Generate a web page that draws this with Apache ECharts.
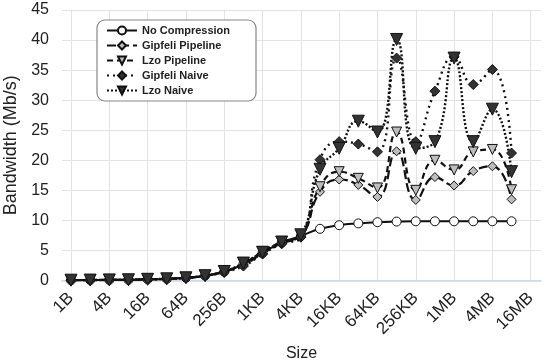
<!DOCTYPE html>
<html>
<head>
<meta charset="utf-8">
<script src="https://cdn.jsdelivr.net/npm/echarts@6/dist/echarts.min.js"></script>
<style>
html,body{margin:0;padding:0;background:#fff;}
#c{width:550px;height:362px;}
</style>
</head>
<body>
<div id="c"></div>
<script>
// Categories: message sizes (powers of two)
var sizes = ['1B','2B','4B','8B','16B','32B','64B','128B','256B','512B','1KB','2KB','4KB','8KB','16KB','32KB','64KB','128KB','256KB','512KB','1MB','2MB','4MB','8MB'];
var tickLabels = ['1B','4B','16B','64B','256B','1KB','4KB','16KB','64KB','256KB','1MB','4MB','16MB'];

var noCompression   = [0.05,0.07,0.1,0.12,0.2,0.27,0.45,0.8,1.45,2.7,4.6,6.3,7.4, 8.6,9.2,9.5,9.7,9.8,9.85,9.85,9.85,9.85,9.85,9.85];
var gipfeliPipeline = [0.05,0.07,0.1,0.12,0.2,0.28,0.45,0.8,1.5,2.6,4.5,6.2,7.3, 14.75,16.8,15.9,13.9,21.5,13.4,17.2,15.8,18.2,19.0,13.5];
var lzoPipeline     = [0.05,0.07,0.1,0.12,0.2,0.28,0.45,0.8,1.5,2.8,4.8,6.4,7.5, 15.6,18.1,17.0,15.4,24.7,15.0,20.0,18.4,21.4,21.8,15.1];
var gipfeliNaive    = [0.05,0.07,0.1,0.12,0.2,0.28,0.45,0.78,1.4,2.4,4.4,6.1,7.2, 20.1,23.1,22.7,21.4,37.0,23.1,31.5,37.2,32.6,35.1,21.2];
var lzoNaive        = [0.05,0.07,0.1,0.12,0.2,0.28,0.45,0.8,1.5,2.9,4.7,6.4,7.6, 18.5,22.0,26.5,24.7,40.1,22.0,23.1,37.0,23.1,28.5,18.1];

function pts(arr){ return arr.map(function(v,i){ return [i, v]; }); }

var FONT = "'Liberation Sans', Arial, sans-serif";
var chart = echarts.init(document.getElementById('c'), null, {renderer:'canvas'});

function mkSeries(name, data, symbol, rotate, size, fill, dash, width) {
  return {
    name: name, type: 'line', xAxisIndex: 1, yAxisIndex: 1,
    data: pts(data), smooth: 0.5, symbol: symbol, symbolRotate: rotate, symbolSize: size,
    showAllSymbol: true,
    lineStyle: {color: '#111', width: width, type: dash},
    itemStyle: {color: fill, borderColor: '#111', borderWidth: 1},
    emphasis: {disabled: true}, animation: false
  };
}

var option = {
  animation: false,
  textStyle: {fontFamily: FONT},
  grid: [
    {left: 62, right: 9, top: 10, bottom: 81.5, containLabel: false, outerBoundsMode: 'none'},
    {left: 71, right: 19.3, top: 10, bottom: 81.5, containLabel: false, outerBoundsMode: 'none'}
  ],
  legend: {
    orient: 'vertical', left: 97, top: 20,
    backgroundColor: '#fff', borderColor: '#888', borderWidth: 1.2, borderRadius: 8,
    padding: [5, 26, 5, 9], itemWidth: 30, itemHeight: 10, itemGap: 4,
    textStyle: {fontSize: 11, fontWeight: 'bold', color: '#222', fontFamily: FONT},
    data: ['No Compression','Gipfeli Pipeline','Lzo Pipeline','Gipfeli Naive','Lzo Naive']
  },
  xAxis: [
    {gridIndex: 0, type: 'value', min: 0, max: 24,
     axisLine: {show: true, lineStyle: {color: '#cfd7e6', width: 1.5}},
     axisTick: {show: false}, axisLabel: {show: false}, splitLine: {show: false},
     name: 'Size', nameLocation: 'middle', nameGap: 65,
     nameTextStyle: {fontSize: 16, color: '#222', fontFamily: FONT}},
    {gridIndex: 1, type: 'value', min: 0, max: 24, interval: 2,
     axisLine: {show: false}, axisTick: {show: false},
     splitLine: {show: true, lineStyle: {color: '#e3e3e3', width: 1}},
     axisLabel: {rotate: 45, fontSize: 17, color: '#222', margin: 15, fontFamily: FONT,
       formatter: function(v){ return tickLabels[Math.round(v/2)] || ''; }}}
  ],
  yAxis: [
    {gridIndex: 0, type: 'value', min: 0, max: 45, interval: 5,
     axisLine: {show: false}, axisTick: {show: false},
     splitLine: {show: true, lineStyle: {color: '#e3e3e3', width: 1}},
     axisLabel: {fontSize: 16, color: '#222', margin: 13, fontFamily: FONT},
     name: 'Bandwidth (Mb/s)', nameLocation: 'middle', nameGap: 40,
     nameTextStyle: {fontSize: 18, color: '#222', fontFamily: FONT}},
    {gridIndex: 1, type: 'value', min: 0, max: 45, interval: 5, show: false}
  ],
  series: [
    mkSeries('No Compression', noCompression, 'circle', 0, 9, '#ffffff', 'solid', 2),
    mkSeries('Gipfeli Pipeline', gipfeliPipeline, 'diamond', 0, 9, '#bdbdbd', [9,4], 2.2),
    mkSeries('Lzo Pipeline', lzoPipeline, 'triangle', 180, 10, '#bdbdbd', [6,4], 2.2),
    mkSeries('Gipfeli Naive', gipfeliNaive, 'diamond', 0, 10, '#333333', [2,4], 2.4),
    mkSeries('Lzo Naive', lzoNaive, 'triangle', 180, 12, '#333333', [2,2], 2.4)
  ]
};
chart.setOption(option);
</script>
</body>
</html>
